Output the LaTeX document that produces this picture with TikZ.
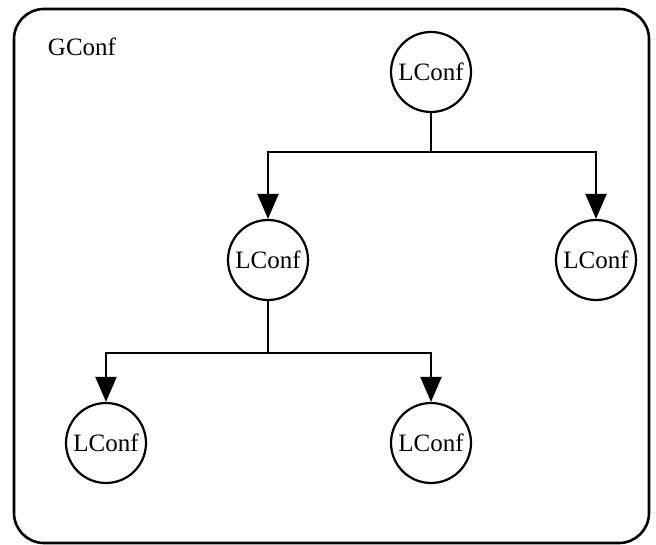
\documentclass[tikz,border=0pt]{standalone}
\usepackage{fontspec}
\setmainfont{Liberation Serif}
\usetikzlibrary{arrows.meta}
\tikzset{
  conf/.style={circle, draw, line width=2.2pt, minimum size=80pt, inner sep=0pt, font=\fontsize{25}{29}\selectfont},
  link/.style={line width=2.2pt},
  push/.style={line width=2.2pt, -{Triangle[length=25pt,width=21pt]}}
}
\begin{document}
\begin{tikzpicture}[x=1pt,y=-1pt]
  \useasboundingbox (0,0) rectangle (656,545);
  % outer configuration frame
  \draw[line width=2.6pt, rounded corners=30pt] (14,9) rectangle (649,543);
  \node[font=\fontsize{25}{29}\selectfont] (gconf) at (82,47) {GConf};
  \draw
    (431,72) node[conf] (top){LConf}
    (268,260) node[conf] (mid){LConf}
    (596,260) node[conf] (right){LConf}
    (106,443) node[conf] (botl){LConf}
    (431,443) node[conf] (botr){LConf};
  % branch points under each parent
  \coordinate (s1) at (431,152);
  \coordinate (s2) at (268,353);
  \begin{scope}[link]
    \draw (top) -- (s1);
    \draw (mid) -- (s2);
  \end{scope}
  \begin{scope}[push]
    \draw (s1) -| (mid);
    \draw (s1) -| (right);
    \draw (s2) -| (botl);
    \draw (s2) -| (botr);
  \end{scope}
\end{tikzpicture}
\end{document}
